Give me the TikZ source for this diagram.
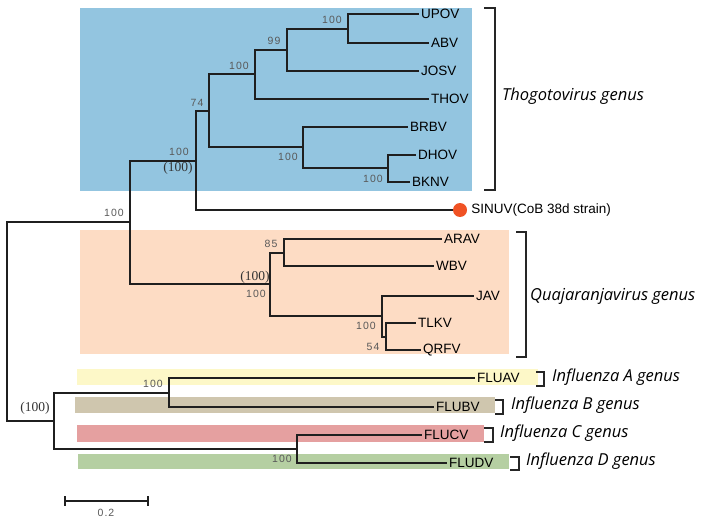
\documentclass[tikz,border=0pt]{standalone}
\usepackage{fontspec}
\setmainfont{Liberation Sans}
\newfontfamily\supfont[LetterSpace=10]{Liberation Sans}
\newfontfamily\bootfont{Liberation Serif}
\newfontfamily\genusfont{Open Sans}
\usetikzlibrary{positioning}
\definecolor{thogoblue}{RGB}{147,197,224}
\definecolor{quajorange}{RGB}{253,220,196}
\definecolor{fluayellow}{RGB}{253,248,200}
\definecolor{flubtan}{RGB}{207,198,174}
\definecolor{flucred}{RGB}{229,160,160}
\definecolor{fludgreen}{RGB}{181,207,162}
\definecolor{sinured}{RGB}{240,82,36}
\begin{document}
\begin{tikzpicture}[x=1pt, y=-1pt,
    branch/.style={line width=1.4pt, draw=black!88},
    leaf/.style={anchor=west, inner sep=2pt, font=\fontsize{13.5}{13.5}\selectfont},
    support/.style={inner sep=0pt, text=black!65, font=\supfont\fontsize{10.5}{10.5}\selectfont},
    boot/.style={inner sep=0pt, text=black!80, font=\bootfont\fontsize{13.5}{13.5}\selectfont},
    genus/.style={anchor=west, inner sep=0pt, font=\genusfont\itshape\fontsize{16.5}{16.5}\selectfont},
    bracket/.style={line width=1.3pt, draw=black!85}]
  \useasboundingbox (0,0) rectangle (704,524);
  \fill[thogoblue] (80,8) rectangle (472,191);
  \fill[quajorange] (80,230) rectangle (509,354);
  \fill[fluayellow] (77,369) rectangle (538,385);
  \fill[flubtan] (75,397) rectangle (495,413);
  \fill[flucred] (77,425) rectangle (484,442);
  \fill[fludgreen] (78,454) rectangle (509,469);
  \coordinate (root) at (7,321);
  \coordinate (A) at (130,222);
  \coordinate (B) at (196,161);
  \coordinate (C) at (209,111);
  \coordinate (D) at (255,74);
  \coordinate (E) at (287,50);
  \coordinate (F) at (348,29);
  \coordinate (G) at (303,147);
  \coordinate (H) at (388,168);
  \coordinate (I) at (270,284);
  \coordinate (J) at (284,253);
  \coordinate (K) at (382,316);
  \coordinate (L) at (386,337);
  \coordinate (M) at (54,421);
  \coordinate (N) at (169,393);
  \coordinate (O) at (297,449);
  \node[leaf] (upov) at (419,14) {UPOV};
  \node[leaf] (abv) at (429,43) {ABV};
  \node[leaf] (josv) at (419,71) {JOSV};
  \node[leaf] (thov) at (429,99) {THOV};
  \node[leaf] (brbv) at (408,127) {BRBV};
  \node[leaf] (dhov) at (416,155) {DHOV};
  \node[leaf] (bknv) at (410,182) {BKNV};
  \node[circle, fill=sinured, minimum size=14pt, inner sep=0pt] (sinudot) at (460,210) {};
  \node[leaf, right=2pt of sinudot] (sinuv) {SINUV(CoB 38d strain)};
  \node[leaf] (arav) at (442,239) {ARAV};
  \node[leaf] (wbv) at (434,266) {WBV};
  \node[leaf] (jav) at (474,296) {JAV};
  \node[leaf] (tlkv) at (416,323) {TLKV};
  \node[leaf] (qrfv) at (421,350) {QRFV};
  \node[leaf] (fluav) at (475,378) {FLUAV};
  \node[leaf] (flubv) at (434,407) {FLUBV};
  \node[leaf] (flucv) at (422,435) {FLUCV};
  \node[leaf] (fludv) at (447,463) {FLUDV};
  \foreach \p/\c in {root/A, root/M, A/B, A/I, B/C, B/sinudot, C/D, C/G,
      D/E, D/thov, E/F, E/josv, F/upov, F/abv, G/brbv, G/H, H/dhov, H/bknv,
      I/J, I/K, J/arav, J/wbv, K/jav, K/L, L/tlkv, L/qrfv,
      M/N, M/O, N/fluav, N/flubv, O/flucv, O/fludv} {
    \draw[branch] (\p) |- (\c);
  }
  \node[support] (supA) at (114,213) {100};
  \node[support] (supB) at (179,152) {100};
  \node[boot] (bootB) at (178,168) {(100)};
  \node[support] (supC) at (197,103) {74};
  \node[support] (supD) at (239,66) {100};
  \node[support] (supE) at (274,41) {99};
  \node[support] (supF) at (332,20) {100};
  \node[support] (supG) at (288,157) {100};
  \node[support] (supH) at (373,179) {100};
  \node[boot] (bootI) at (255,277) {(100)};
  \node[support] (supI) at (256,294) {100};
  \node[support] (supJ) at (271,244) {85};
  \node[support] (supK) at (366,326) {100};
  \node[support] (supL) at (373,347) {54};
  \node[boot] (bootM) at (35,408) {(100)};
  \node[support] (supN) at (153,384) {100};
  \node[support] (supO) at (282,459) {100};
  \draw[bracket] (484,8) -| (495,190) -- (484,190);
  \draw[bracket] (516,232) -| (526,357) -- (516,357);
  \draw[bracket] (536,372) -| (544,386) -- (536,386);
  \draw[bracket] (495,400) -| (503,414) -- (495,414);
  \draw[bracket] (484,428) -| (493,442) -- (484,442);
  \draw[bracket] (510,457) -| (519,470) -- (510,470);
  \node[genus] (thogo) at (502,96) {Thogotovirus genus};
  \node[genus] (quaja) at (530,296) {Quajaranjavirus genus};
  \node[genus] (infa) at (552,377) {Influenza A genus};
  \node[genus] (infb) at (511,405) {Influenza B genus};
  \node[genus] (infc) at (500,433) {Influenza C genus};
  \node[genus] (infd) at (526,461) {Influenza D genus};
  \draw[branch] (65,501) -- (148,501);
  \draw[branch] (65,496) -- (65,506);
  \draw[branch] (148,496) -- (148,506);
  \node[support] (scale) at (106,513) {0.2};
\end{tikzpicture}
\end{document}
